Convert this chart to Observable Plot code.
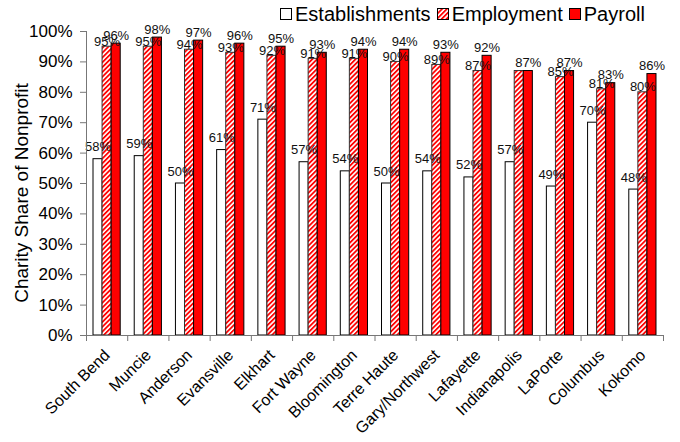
<!DOCTYPE html>
<html><head><meta charset="utf-8">
<script src="https://cdn.jsdelivr.net/npm/d3@7"></script>
<script src="https://cdn.jsdelivr.net/npm/@observablehq/plot@0.6"></script>
<style>
body{margin:0;background:#fff;font-family:"Liberation Sans",Arial,sans-serif;}
#wrap{position:relative;width:680px;height:442px;}
#legend{position:absolute;top:3px;left:280px;display:flex;align-items:center;font-size:20px;color:#000;white-space:nowrap;line-height:22px}
.item{display:flex;align-items:center;margin-right:6px}
.sw{width:12px;height:12px;margin-right:3px;display:block}
#ytitle{position:absolute;left:22px;top:193px;transform:translate(-50%,-50%) rotate(-90deg);font-size:19px;white-space:nowrap;color:#000}
</style></head>
<body>
<svg width="0" height="0" style="position:absolute"><defs>
<pattern id="stripes" patternUnits="userSpaceOnUse" width="3.4" height="3.4" patternTransform="rotate(45)">
<rect width="3.4" height="3.4" fill="#fff"/><rect width="1.8" height="3.4" fill="#f00"/></pattern></defs></svg>
<div id="wrap"><div id="chart"></div><div id="legend"></div><div id="ytitle">Charity Share of Nonprofit</div></div>
<script>
const cities = ["South Bend","Muncie","Anderson","Evansville","Elkhart","Fort Wayne","Bloomington","Terre Haute","Gary/Northwest","Lafayette","Indianapolis","LaPorte","Columbus","Kokomo"];
const establishments = [58,59,50,61,71,57,54,50,54,52,57,49,70,48];
const employment = [95,95,94,93,92,91,91,90,89,87,87,85,81,80];
const payroll = [96,98,97,96,95,93,94,94,93,92,87,87,83,86];
const seriesNames = ["Establishments","Employment","Payroll"];
const yTicks = d3.range(0, 101, 10);
const hiddenLabels = [["Indianapolis","Employment"]];

const seriesValues = [establishments, employment, payroll];
const fills = ["#fff", "url(#stripes)", "#f00"];
const strokes = ["#000", "#333", "#000"];
const labelGap = [8, 1, 4];
const start = 0.17, bw = 0.22;

const rows = [];
seriesNames.forEach((s, k) => cities.forEach((c, i) => rows.push({i, city: c, series: s, k, value: seriesValues[k][i]})));
const isHidden = d => hiddenLabels.some(([c, s]) => c === d.city && s === d.series);

const marks = [];
seriesNames.forEach((s, k) => {
  const r = rows.filter(d => d.k === k);
  marks.push(Plot.rectY(r, {x1: d => d.i + start + k*bw, x2: d => d.i + start + (k+1)*bw, y: "value", fill: fills[k], stroke: strokes[k], strokeWidth: 1}));
});
seriesNames.forEach((s, k) => {
  const r = rows.filter(d => d.k === k && !isHidden(d));
  marks.push(Plot.text(r, {x: d => d.i + start + (k+0.5)*bw, y: "value", text: d => d.value + "%", lineAnchor: "bottom", dy: -labelGap[k], fontSize: 13, fill: "#111"}));
});

const chart = Plot.plot({
  width: 680, height: 442,
  marginLeft: 86, marginRight: 17, marginTop: 31, marginBottom: 107,
  style: {fontFamily: "'Liberation Sans', Arial, sans-serif", color: "#000", background: "#fff"},
  x: {domain: [0, cities.length], axis: null},
  y: {domain: [0, 100], axis: null},
  marks: [
    ...marks,
    Plot.axisY({ticks: yTicks, tickFormat: d => d + "%", tickSize: 6, tickPadding: 8, fontSize: 17, label: null, stroke: "#777"}),
    Plot.axisX({ticks: d3.range(cities.length + 1), tickFormat: () => "", tickSize: 6, label: null, stroke: "#777"}),
    Plot.axisX({ticks: cities.map((c, i) => i + 0.5), tickFormat: v => cities[Math.floor(v)], tickSize: 0, tickPadding: 17, tickRotate: -45, fontSize: 16, label: null}),
    Plot.ruleX([0], {stroke: "#777"}),
    Plot.ruleY([0], {stroke: "#777"})
  ]
});
document.getElementById("chart").appendChild(chart);

const legend = document.getElementById("legend");
seriesNames.forEach((s, k) => {
  const it = document.createElement("div");
  it.className = "item";
  it.innerHTML = `<svg class="sw" width="12" height="12"><rect x="0.5" y="0.5" width="11" height="11" fill="${fills[k]}" stroke="#000"/></svg><span>${s}</span>`;
  legend.appendChild(it);
});
</script>
</body></html>
